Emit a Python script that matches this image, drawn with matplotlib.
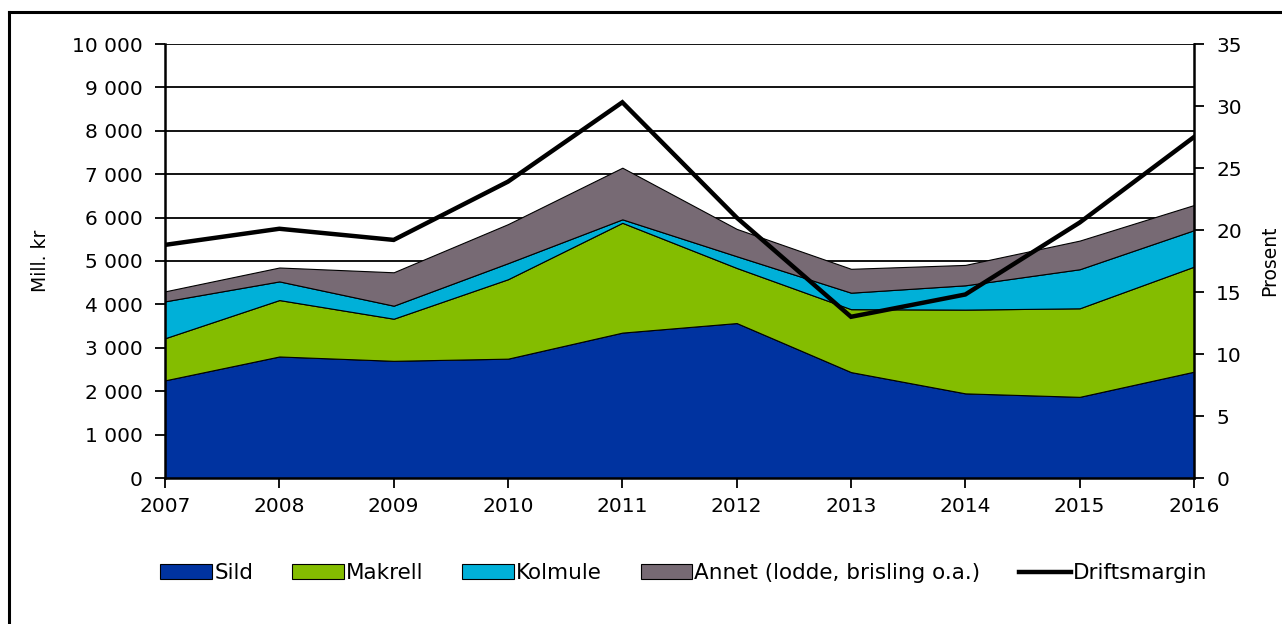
import matplotlib.pyplot as plt
from matplotlib.lines import Line2D
from matplotlib.patches import Patch

years = [2007, 2008, 2009, 2010, 2011, 2012, 2013, 2014, 2015, 2016]
sild = [2250, 2800, 2700, 2750, 3350, 3570, 2440, 1950, 1870, 2450]
makrell = [970, 1300, 970, 1830, 2530, 1270, 1450, 1930, 2040, 2420]
kolmule = [850, 430, 300, 370, 80, 270, 380, 560, 900, 840]
annet = [230, 320, 770, 900, 1190, 630, 550, 470, 660, 580]
driftsmargin = [18.8, 20.1, 19.2, 23.9, 30.3, 21.0, 13.0, 14.8, 20.6, 27.5]

series_names = ['Sild', 'Makrell', 'Kolmule', 'Annet (lodde, brisling o.a.)']
colors = ['#0033a0', '#84bd00', '#00b0d8', '#776a74']

plt.rcParams['font.family'] = ['DejaVu Sans']

fig = plt.figure(figsize=(12.82, 6.24), dpi=100)
ax = fig.add_axes([165 / 1282, 1 - 478 / 624, (1194 - 165) / 1282, (478 - 44) / 624])

# horizontal gridlines behind the areas
for v in range(1000, 10001, 1000):
    ax.axhline(v, color='black', lw=1.3, zorder=0)

ax.stackplot(years, sild, makrell, kolmule, annet, colors=colors,
             edgecolor='black', linewidth=0.8, zorder=2)
ax.set_xlim(2007, 2016)
ax.set_ylim(0, 10000)
ax.set_yticks(range(0, 10001, 1000))
ax.set_yticklabels([f'{v:,}'.replace(',', ' ') for v in range(0, 10001, 1000)])
ax.set_xticks(years)
ax.tick_params(labelsize=14.5, length=7, width=1.3, color='black', pad=9)
ax.tick_params(axis='x', pad=7)
ax.set_ylabel('Mill. kr', fontsize=13.5, labelpad=16)
for side in ['top', 'right']:
    ax.spines[side].set_visible(False)
for side in ['left', 'bottom']:
    ax.spines[side].set_linewidth(1.8)

ax2 = ax.twinx()
ax2.plot(years, driftsmargin, color='black', lw=3.2, zorder=5, solid_joinstyle='miter')
ax2.set_ylim(0, 35)
ax2.set_yticks(range(0, 36, 5))
ax2.tick_params(labelsize=14.5, length=7, width=1.3, pad=9)
ax2.set_ylabel('Prosent', fontsize=13.5, labelpad=13)
for side in ['top', 'left', 'bottom']:
    ax2.spines[side].set_visible(False)
ax2.spines['right'].set_linewidth(1.8)

handles = [Patch(facecolor=c, edgecolor='black', linewidth=0.8) for c in colors]
handles.append(Line2D([0], [0], color='black', lw=3.2))
fig.legend(handles, series_names + ['Driftsmargin'], loc='center',
           bbox_to_anchor=(684 / 1282, 1 - 573 / 624), ncol=5, frameon=False,
           prop={'size': 15.5}, handlelength=2.4,
           handleheight=0.65, handletextpad=0.1, columnspacing=1.8)

# outer frame
fig.add_artist(Line2D([9 / 1282, 9 / 1282], [0, 1 - 12 / 624], color='black', lw=2.2))
fig.add_artist(Line2D([9 / 1282, 1], [1 - 12 / 624, 1 - 12 / 624], color='black', lw=2.2))

fig.savefig('out.png', dpi=100)
